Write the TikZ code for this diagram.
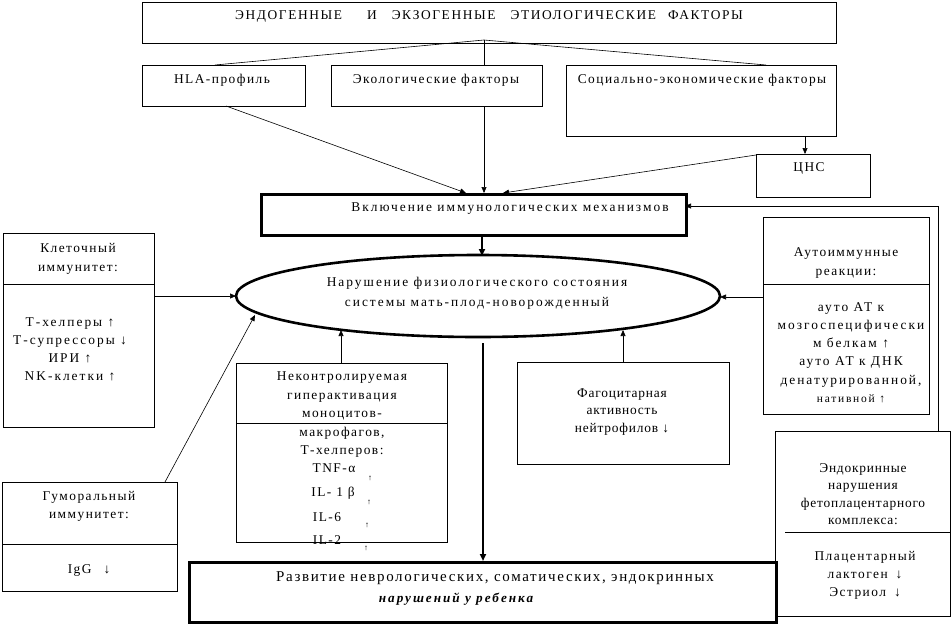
\documentclass[tikz,border=0pt]{standalone}
\usepackage{fontspec}
\setmainfont{Liberation Serif}
\newfontfamily\wide[LetterSpace=11]{Liberation Serif}
\newfontfamily\wider[LetterSpace=15]{Liberation Serif}
\newfontfamily\narrow[LetterSpace=6]{Liberation Serif}
\newfontfamily\capfont[LetterSpace=12]{Liberation Serif}
\usetikzlibrary{arrows.meta,shapes.geometric}
\tikzset{
  box/.style={draw, line width=0.8pt, anchor=north west, inner sep=0pt},
  thickbox/.style={box, line width=2.6pt},
  txt/.style={font=\wide\fontsize{13.4}{18.5}\selectfont, align=center, inner sep=0pt},
  small/.style={font=\fontsize{8}{9}\selectfont, inner sep=0pt},
  conn/.style={line width=0.6pt, -{Triangle[length=6pt,width=5pt]}},
  thickconn/.style={line width=2.2pt, -{Triangle[length=7pt,width=6pt]}},
  plain/.style={line width=0.6pt},
}
\begin{document}
\begin{tikzpicture}[x=1pt,y=-1pt]
\useasboundingbox[fill=white] (0,0) rectangle (952,627);

% boxes
\node[box, minimum width=694pt, minimum height=41pt] (top) at (142,2) {};
\node[txt, font=\capfont\fontsize{13.4}{15}\selectfont] (topt) at (489,16) {ЭНДОГЕННЫЕ\hspace{25pt}И\hspace{15pt}ЭКЗОГЕННЫЕ\hspace{15pt}ЭТИОЛОГИЧЕСКИЕ\hspace{12pt}ФАКТОРЫ};

\node[box, minimum width=163pt, minimum height=41pt] (hla) at (142,65) {};
\node[txt] (hlat) at (222,80) {HLA-профиль};
\node[box, minimum width=211pt, minimum height=41pt] (eco) at (331,65) {};
\node[txt] (ecot) at (436,80) {Экологические факторы};
\node[box, minimum width=270pt, minimum height=71pt] (soc) at (566,65) {};
\node[txt] (soct) at (702,80) {Социально-экономические факторы};
\node[box, minimum width=114pt, minimum height=43pt] (cns) at (756,154) {};
\node[txt] (cnst) at (809,168) {ЦНС};

\node[thickbox, minimum width=425pt, minimum height=41pt] (vkl) at (260,193) {};
\node[txt, font=\wider\fontsize{13.4}{18.5}\selectfont] (vklt) at (510,209) {Включение иммунологических механизмов};

\node[draw, ellipse, line width=2.6pt, minimum width=484pt, minimum height=82pt, inner sep=0pt] (ell) at (478,296) {};
\node[txt, font=\wider\fontsize{13.4}{20}\selectfont] (ellt) at (477,293) {Нарушение физиологического состояния\\системы мать-плод-новорожденный};

% left cell immunity
\node[box, minimum width=151pt, minimum height=194pt] (kl) at (3,233) {};
\draw[plain] (3,284) -- (154,284);
\node[txt, font=\wide\fontsize{13.4}{19}\selectfont] (klh) at (78,258.5) {Клеточный\\иммунитет:};
\node[txt, font=\wider\fontsize{13.4}{18}\selectfont] (klb) at (70,349) {Т-хелперы ↑\\Т-супрессоры ↓\\ИРИ ↑\\NK-клетки ↑};

% humoral
\node[box, minimum width=175pt, minimum height=109pt] (hum) at (2,482) {};
\draw[plain] (2,544) -- (177,544);
\node[txt, font=\wide\fontsize{13.4}{18}\selectfont] (humh) at (89,506) {Гуморальный\\иммунитет:};
\node[txt] (humb) at (89,570) {IgG\hspace{12pt}↓};

% uncontrolled
\node[box, minimum width=211pt, minimum height=179pt] (ne) at (236,363) {};
\draw[plain] (236,423) -- (448,423);
\node[txt, font=\wide\fontsize{13.4}{18.5}\selectfont] (neh) at (342,415) {Неконтролируемая\\гиперактивация\\моноцитов-\\макрофагов,\\Т-хелперов:};
\node[txt] (tnf) at (334,468) {TNF-α};
\node[txt] (il1) at (333,493) {IL- 1 β};
\node[txt] (il6) at (327,517) {IL-6};
\node[txt] (il2) at (327,540) {IL-2};
\node[small] (a1) at (370,478) {↑};
\node[small] (a2) at (369,502) {↑};
\node[small] (a3) at (367,525) {↑};
\node[small] (a4) at (366,548) {↑};

% phagocyte
\node[box, minimum width=212pt, minimum height=102pt] (fag) at (517,362) {};
\node[txt, font=\narrow\fontsize{13.4}{17.5}\selectfont] (fagt) at (622,412) {Фагоцитарная\\активность\\нейтрофилов ↓};

% autoimmune
\node[box, minimum width=166pt, minimum height=197pt] (au) at (763,217) {};
\draw[plain] (763,284) -- (929,284);
\node[txt, font=\wide\fontsize{13.4}{19}\selectfont] (auh) at (846,262.5) {Аутоиммунные\\реакции:};
\node[txt, font=\wider\fontsize{13.4}{18.2}\selectfont] (aub) at (851,352.5) {ауто АТ к\\мозгоспецифически\\м белкам ↑\\ауто АТ к ДНК\\денатурированной,\\{\fontsize{11.5}{18.2}\selectfont нативной ↑}};

% endocrine
\node[box, minimum width=175pt, minimum height=185pt] (endo) at (775,431) {};
\draw[plain] (785,532) -- (950,532);
\node[txt, font=\narrow\fontsize{13.4}{17.3}\selectfont] (endoh) at (863,494) {Эндокринные\\нарушения\\фетоплацентарного\\комплекса:};
\node[txt, font=\wide\fontsize{13.4}{18}\selectfont] (endob) at (865,575) {Плацентарный\\лактоген\hspace{8pt}↓\\Эстриол\hspace{8pt}↓};

% bottom
\node[thickbox, minimum width=587pt, minimum height=60pt] (bot) at (188,561) {};
\node[txt, font=\wide\fontsize{15}{17}\selectfont] (bot1) at (495,578) {Развитие неврологических, соматических, эндокринных};
\node[txt, font=\wider\fontsize{13.2}{14}\selectfont\bfseries\itshape] (bot2) at (456,599) {нарушений у ребенка};

% connectors
\coordinate (peak) at (484,40);
\draw[plain] (peak) -- (215,65);
\draw[plain] (peak) -- (766,65);
\draw[plain] (peak) -- (484,65);
\draw[conn] (484,106) -- (484,193);
\draw[conn] (226,106) -- (466,193);
\draw[conn] (756,155) -- (503,193);
\draw[conn] (805,136) -- (805,154);
\draw[conn] (938,431) -- (938,206) -- (685,206);
\draw[thickconn] (482,234) -- (482,256);
\draw[conn] (154,296) -- (236,296);
\draw[conn] (763,297) -- (720,297);
\draw[conn] (165,482) -- (255,315);
\draw[conn] (341,363) -- (341,330);
\draw[conn] (623,362) -- (623,330);
\draw[thickconn] (483,343) -- (483,561);
\end{tikzpicture}
\end{document}
